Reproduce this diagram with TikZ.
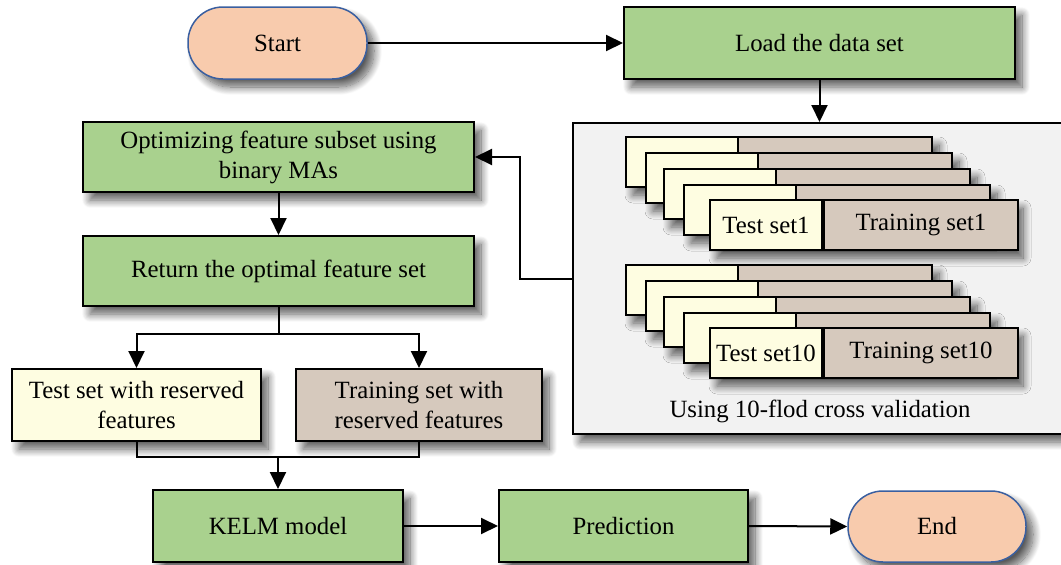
\documentclass[tikz,border=0pt]{standalone}
\usepackage{fontspec}
\setmainfont{Liberation Serif}
\usetikzlibrary{arrows.meta,shadows.blur,calc}

\definecolor{boxgreen}{HTML}{A9D18E}
\definecolor{pillfill}{HTML}{F8CBAD}
\definecolor{pillline}{HTML}{3A5FA0}
\definecolor{testfill}{HTML}{FEFDE1}
\definecolor{trainfill}{HTML}{D6C9BD}
\definecolor{panelfill}{HTML}{F2F2F2}

\tikzset{
  shd/.style={blur shadow={shadow xshift=7pt, shadow yshift=-8pt,
      shadow blur radius=8pt, shadow blur steps=14, shadow opacity=65}},
  plain/.style={draw=black, line width=2pt, rectangle, inner sep=0pt,
      align=center, font=\fontsize{24.8}{30}\selectfont},
  box/.style={plain, shd},
  greenbox/.style={box, fill=boxgreen},
  pill/.style={box, draw=pillline, line width=1.5pt, fill=pillfill, rounded corners=35pt},
  arr/.style={line width=2pt, -{Triangle[length=17pt,width=16pt]}},
  ln/.style={line width=2pt},
}

\begin{document}
\begin{tikzpicture}[x=1pt, y=-1pt]
\clip (0,0) rectangle (1061,565);

% top row
\node[pill, minimum width=179pt, minimum height=72pt] (start) at (277.5,43) {Start};
\node[greenbox, minimum width=391pt, minimum height=72pt] (load) at (819.5,43) {Load the data set};

% cross-validation panel
\node[plain, fill=panelfill, shd, minimum width=530pt, minimum height=311pt, anchor=north west] (cv) at (572,122) {};

% fold stacks
\foreach \dy/\k in {0/1,128/10} {
  \foreach \lx/\ly in {625/136,645/152,663/168,683/184} {
    \node[box, fill=trainfill, minimum width=306pt, minimum height=50pt, anchor=north west] at (\lx,\ly+\dy) {};
    \node[plain, fill=testfill, minimum width=112pt, minimum height=50pt, anchor=north west] at (\lx,\ly+\dy) {};
  }
  \node[box, fill=trainfill, minimum width=306pt, minimum height=50pt, anchor=north west] at (709,199+\dy) {};
  \node[plain, fill=testfill, minimum width=112pt, minimum height=50pt, anchor=north west] (test\k) at (709,199+\dy) {Test set\k};
  \node[plain, fill=trainfill, minimum width=194pt, minimum height=50pt, anchor=north west] (train\k) at (test\k.north east) {Training set\k};
}
\node[font=\fontsize{24.8}{30}\selectfont, inner sep=0pt] (cvlabel) at (820,411) {Using 10-flod cross validation};

% left column
\node[greenbox, minimum width=391pt, minimum height=70pt] (opt) at (278.5,157) {Optimizing feature subset using\\binary MAs};
\node[greenbox, minimum width=391pt, minimum height=70pt] (ret) at (278.5,271) {Return the optimal feature set};
\node[box, fill=testfill, minimum width=249pt, minimum height=72pt] (tst) at (136.5,405) {Test set with reserved\\features};
\node[box, fill=trainfill, minimum width=246pt, minimum height=72pt] (trn) at (419,405) {Training set with\\reserved features};

% bottom row
\node[greenbox, minimum width=250pt, minimum height=72pt] (kelm) at (278,526) {KELM model};
\node[greenbox, minimum width=249pt, minimum height=72pt] (pred) at (623.5,526) {Prediction};
\node[pill, minimum width=178pt, minimum height=71pt] (end) at (937,526.5) {End};

% connectors
\draw[arr] (start.east) -- (load.west);
\draw[arr] (load.south) -- (load.south |- cv.north);
\draw[arr] (cv.west) -- ++(-52,0) |- (opt.east);
\draw[arr] (opt.south) -- (ret.north);
\coordinate (split) at ($(ret.south)+(0,27)$);
\draw[ln] (ret.south) -- (split);
\draw[arr] (split) -| (tst.north);
\draw[arr] (split) -| (trn.north);
\coordinate (merge) at (kelm.north |- 0,457);
\draw[ln] (tst.south) |- (merge) -| (trn.south);
\draw[arr] (merge) -- (kelm.north);
\draw[arr] (kelm.east) -- (pred.west);
\draw[arr] (pred.east) -- (end.west);
\end{tikzpicture}
\end{document}
